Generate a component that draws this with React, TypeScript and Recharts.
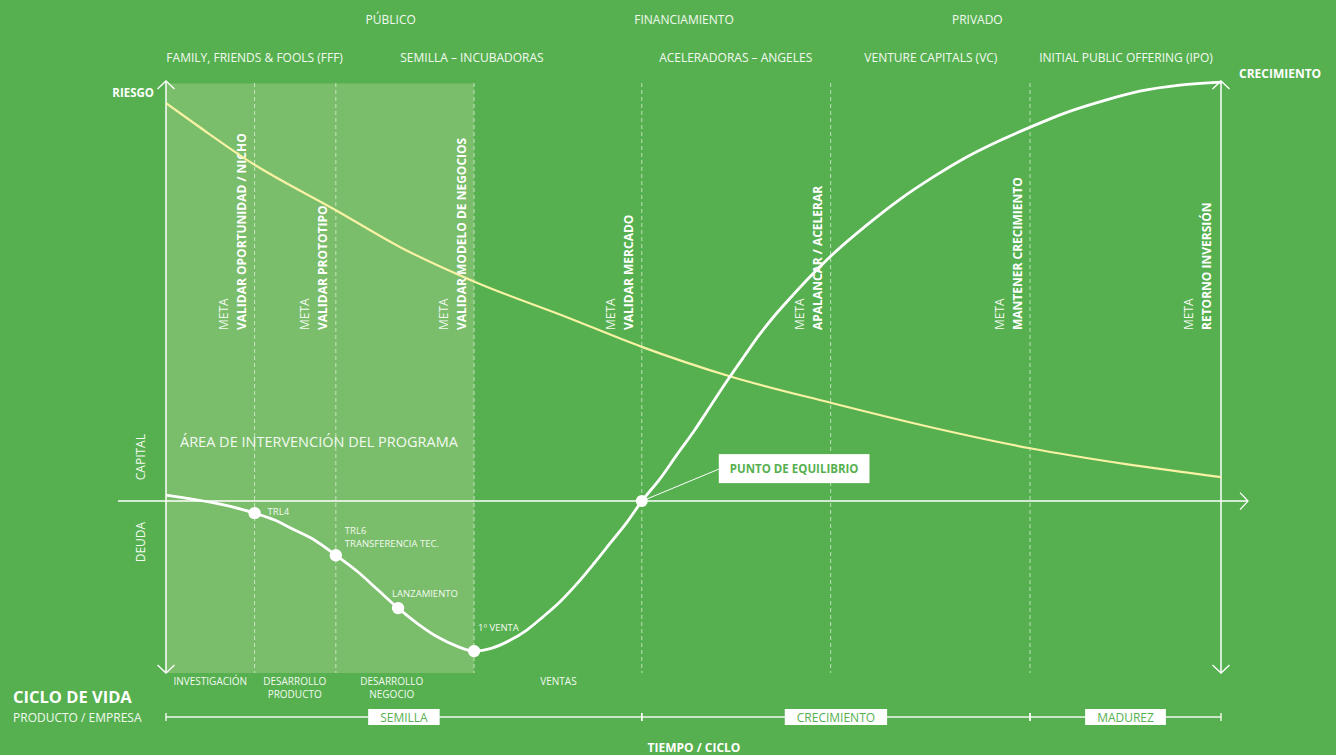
import React from "react";
import {
  ComposedChart,
  Line,
  Scatter,
  XAxis,
  YAxis,
  ReferenceLine,
  ReferenceArea,
  ReferenceDot,
  Label,
  Customized,
} from "recharts";

// time runs 0..100 along the cycle, level is capital (+) / debt (-)
const riskTime = [0, 3.2, 8.0, 16.1, 22.2, 29.3, 38.0, 45.1, 53.5, 63.0, 72.5, 81.9, 91.0, 100];
const riskLevel = [92.6, 87.0, 78.9, 67.7, 59.1, 51.0, 42.8, 35.9, 29.0, 22.9, 17.2, 12.3, 8.6, 5.6];

const capitalTime = [
  0, 8.4, 10.3, 12.0, 14.1, 16.1, 18.2, 20.1, 22.0, 23.9, 25.8, 27.5, 29.2, 30.9, 32.6, 34.2, 35.7, 37.4, 39.0, 40.6,
  42.1, 43.7, 45.1, 46.8, 48.4, 50.1, 51.6, 53.3, 54.8, 56.3, 57.6, 59.0, 61.0, 63.0, 66.3, 69.6, 72.7, 75.9, 79.1,
  81.9, 85.2, 88.5, 92.3, 96.1, 100,
];
const capitalLevel = [
  1.4, -2.8, -4.4, -6.5, -9.1, -12.6, -16.5, -20.7, -24.9, -28.6, -31.7, -33.7, -34.9, -34.2, -32.4, -30.0, -27.0,
  -23.3, -19.1, -14.4, -9.8, -4.9, 0, 5.1, 10.7, 16.5, 22.1, 28.4, 33.7, 38.9, 42.9, 46.8, 52.1, 57.0, 64.0, 70.3,
  75.4, 80.1, 84.0, 87.0, 90.3, 92.9, 95.4, 96.8, 97.5,
];

const milestoneNames = ["TRL4", "TRL6\nTRANSFERENCIA TEC.", "LANZAMIENTO", "1º VENTA", "PUNTO DE EQUILIBRIO"];
const milestoneTime = [8.4, 16.1, 22.0, 29.2, 45.1];
const milestoneLevel = [-2.8, -12.6, -24.9, -34.9, 0];

const goalTime = [8.4, 16.1, 29.2, 45.1, 63.0, 81.9, 100];
const goalLabels = [
  "VALIDAR OPORTUNIDAD / NICHO",
  "VALIDAR PROTOTIPO",
  "VALIDAR MODELO DE NEGOCIOS",
  "VALIDAR MERCADO",
  "APALANCAR / ACELERAR",
  "MANTENER CRECIMIENTO",
  "RETORNO INVERSIÓN",
];

const fundingGroups = ["PÚBLICO", "FINANCIAMIENTO", "PRIVADO"];
const fundingGroupTime = [21.3, 49.1, 76.9];
const fundingSources = [
  "FAMILY, FRIENDS & FOOLS (FFF)",
  "SEMILLA – INCUBADORAS",
  "ACELERADORAS – ANGELES",
  "VENTURE CAPITALS (VC)",
  "INITIAL PUBLIC OFFERING (IPO)",
];
const fundingSourceTime = [8.4, 29.0, 54.0, 72.5, 91.0];

const phases = ["INVESTIGACIÓN", "DESARROLLO\nPRODUCTO", "DESARROLLO\nNEGOCIO", "VENTAS"];
const phaseTime = [4.2, 12.2, 21.4, 37.2];

const stages = ["SEMILLA", "CRECIMIENTO", "MADUREZ"];
const stageBounds = [0, 45.1, 81.9, 100];

const programArea = [0, 29.2];

const riskData = riskTime.map((t, i) => ({ t, v: riskLevel[i] }));
const capitalData = capitalTime.map((t, i) => ({ t, v: capitalLevel[i] }));
const milestoneData = milestoneTime.map((t, i) => ({ t, v: milestoneLevel[i], name: milestoneNames[i] }));

const FONT = "'Open Sans', 'DejaVu Sans', sans-serif";
const BG = "#56b04f";
const LIGHT = "#7abd6a";
const WHITE = "#ffffff";
const TEXT = "#f3faf1";
const YELLOW = "#f8f2a4";

// label offsets from each milestone dot
const milestoneOffset = [
  [13, -1.5],
  [9, -24.5],
  [-6, -15],
  [4, -23.5],
  [77, -32],
];

let ctx: CanvasRenderingContext2D | null = null;
function measure(text: string, font: string) {
  if (!ctx) ctx = document.createElement("canvas").getContext("2d");
  if (!ctx) return text.length * 7;
  ctx.font = font;
  return ctx.measureText(text).width;
}

function Chevron({ x, y, dir }: { x: number; y: number; dir: "up" | "down" | "right" }) {
  const h = 8.5;
  const s = 8;
  let pts = "";
  if (dir === "up") pts = `${x - h},${y + s} ${x},${y} ${x + h},${y + s}`;
  if (dir === "down") pts = `${x - h},${y - s} ${x},${y} ${x + h},${y - s}`;
  if (dir === "right") pts = `${x - s},${y - h} ${x},${y} ${x - s},${y + h}`;
  return <polyline points={pts} fill="none" stroke={WHITE} strokeWidth={1.3} />;
}

const verticalAxis = (side: "left" | "right") => (p: any) => {
  const x = p.x1;
  const top = Math.min(p.y1, p.y2) + 1;
  const bottom = Math.max(p.y1, p.y2);
  return (
    <g>
      <line x1={x} y1={top} x2={x} y2={bottom} stroke={WHITE} strokeWidth={1.5} />
      <Chevron x={x} y={top} dir="up" />
      <Chevron x={x} y={bottom} dir="down" />
      {side === "left" ? (
        <text x={x - 12} y={top + 16} textAnchor="end" fontFamily={FONT} fontSize={11.5} fontWeight={700} fill={WHITE}>
          RIESGO
        </text>
      ) : (
        <text x={x + 18} y={top - 3} fontFamily={FONT} fontSize={12} fontWeight={700} fill={WHITE}>
          CRECIMIENTO
        </text>
      )}
    </g>
  );
};

const zeroAxis = (p: any) => {
  const left = Math.min(p.x1, p.x2);
  const right = Math.max(p.x1, p.x2);
  const y = p.y1;
  return (
    <g>
      <line x1={left - 48} y1={y} x2={right + 27} y2={y} stroke="rgba(255,255,255,0.75)" strokeWidth={2} />
      <Chevron x={right + 27} y={y} dir="right" />
      <text
        transform={`translate(${left - 26},${y - 44}) rotate(-90)`}
        textAnchor="middle"
        dominantBaseline="central"
        fontFamily={FONT}
        fontSize={12}
        fill={TEXT}
      >
        CAPITAL
      </text>
      <text
        transform={`translate(${left - 26},${y + 41}) rotate(-90)`}
        textAnchor="middle"
        dominantBaseline="central"
        fontFamily={FONT}
        fontSize={12}
        fill={TEXT}
      >
        DEUDA
      </text>
    </g>
  );
};

const goalLine = (label: string, isAxis: boolean) => (p: any) => {
  const x = p.x1;
  const top = Math.min(p.y1, p.y2);
  const bottom = Math.max(p.y1, p.y2);
  const shift = isAxis ? 2 : 0;
  return (
    <g>
      {!isAxis && (
        <line x1={x} y1={top + 3} x2={x} y2={bottom} stroke="rgba(255,255,255,0.6)" strokeWidth={1} strokeDasharray="4 3" />
      )}
      <text
        transform={`translate(${x - 31 - shift},${top + 250}) rotate(-90)`}
        dominantBaseline="central"
        fontFamily={FONT}
        fontSize={12}
        fill={TEXT}
      >
        META
      </text>
      <text
        transform={`translate(${x - 13 - shift},${top + 250}) rotate(-90)`}
        dominantBaseline="central"
        fontFamily={FONT}
        fontSize={12}
        fontWeight={700}
        fill={WHITE}
      >
        {label}
      </text>
    </g>
  );
};

const stageBar = (label: string) => (p: any) => {
  const bottom = p.y + p.height;
  const y = bottom + 44;
  const cx = p.x + p.width / 2;
  const w = measure(label, `12px ${FONT}`) + 24;
  return (
    <g>
      <line x1={p.x} y1={y} x2={p.x + p.width} y2={y} stroke="rgba(255,255,255,0.9)" strokeWidth={1.5} />
      <line x1={p.x} y1={y - 4} x2={p.x} y2={y + 4} stroke={WHITE} strokeWidth={1.3} />
      <line x1={p.x + p.width} y1={y - 4} x2={p.x + p.width} y2={y + 4} stroke={WHITE} strokeWidth={1.3} />
      <rect x={cx - w / 2} y={y - 8} width={w} height={16} fill={WHITE} />
      <text x={cx} y={y + 0.5} textAnchor="middle" dominantBaseline="central" fontFamily={FONT} fontSize={12} fill={BG}>
        {label}
      </text>
    </g>
  );
};

const headerText = (label: string, dy: number) => (p: any) => (
  <text x={p.cx} y={p.cy + dy} textAnchor="middle" fontFamily={FONT} fontSize={12} fill={TEXT}>
    {label}
  </text>
);

const phaseText = (label: string) => (p: any) => (
  <g>
    {label.split("\n").map((line, i) => (
      <text
        key={i}
        x={p.cx}
        y={p.cy + 8 + i * 13}
        textAnchor="middle"
        dominantBaseline="central"
        fontFamily={FONT}
        fontSize={10}
        fill={TEXT}
      >
        {line}
      </text>
    ))}
  </g>
);

const MilestoneDot = (p: any) => {
  const idx = milestoneNames.indexOf(p.payload?.name);
  const [dx, dy] = milestoneOffset[idx] ?? [0, 0];
  const name: string = p.payload?.name ?? "";
  if (idx === milestoneNames.length - 1) {
    const w = measure(name, `bold 11.5px ${FONT}`) + 22;
    return (
      <g>
        <line x1={p.cx} y1={p.cy} x2={p.cx + dx} y2={p.cy + dy} stroke={WHITE} strokeWidth={1} />
        <rect x={p.cx + dx} y={p.cy + dy - 15} width={w} height={29} fill={WHITE} />
        <text
          x={p.cx + dx + w / 2}
          y={p.cy + dy - 0.5}
          textAnchor="middle"
          dominantBaseline="central"
          fontFamily={FONT}
          fontSize={11.5}
          fontWeight={700}
          fill={BG}
        >
          {name}
        </text>
        <circle cx={p.cx} cy={p.cy} r={6} fill={WHITE} />
      </g>
    );
  }
  return (
    <g>
      <circle cx={p.cx} cy={p.cy} r={6.2} fill={WHITE} />
      {name.split("\n").map((line, i) => (
        <text
          key={i}
          x={p.cx + dx}
          y={p.cy + dy + i * 13}
          dominantBaseline="central"
          fontFamily={FONT}
          fontSize={9.5}
          fill={TEXT}
        >
          {line}
        </text>
      ))}
    </g>
  );
};

const Captions = () => (
  <g fontFamily={FONT}>
    <text x={13} y={703} fontSize={16.5} fontWeight={700} fill={WHITE}>
      CICLO DE VIDA
    </text>
    <text x={13} y={722} fontSize={12} fill={TEXT}>
      PRODUCTO / EMPRESA
    </text>
    <text x={694} y={752} textAnchor="middle" fontSize={12} fontWeight={700} fill={WHITE}>
      TIEMPO / CICLO
    </text>
  </g>
);

export default function App() {
  return (
    <div style={{ position: "absolute", left: 0, top: 0, width: 1336, height: 755, background: BG, fontFamily: FONT }}>
      <ComposedChart width={1336} height={755} margin={{ top: 80, right: 115, bottom: 82, left: 166 }}>
        <XAxis type="number" dataKey="t" domain={[0, 100]} hide allowDataOverflow />
        <YAxis type="number" dataKey="v" domain={[-40, 98]} hide allowDataOverflow />

        <ReferenceArea x1={programArea[0]} x2={programArea[1]} y1={-40} y2={97.2} fill={LIGHT} fillOpacity={1} stroke="none">
          <Label
            content={(p: any) => (
              <text x={p.viewBox.x + 14} y={p.viewBox.y + 364} fontFamily={FONT} fontSize={14.5} fill={TEXT}>
                ÁREA DE INTERVENCIÓN DEL PROGRAMA
              </text>
            )}
          />
        </ReferenceArea>

        {goalTime.map((t, i) => (
          <ReferenceLine key={`g${i}`} x={t} ifOverflow="visible" shape={goalLine(goalLabels[i], t === 100)} />
        ))}

        <ReferenceLine x={0} ifOverflow="visible" shape={verticalAxis("left")} />
        <ReferenceLine x={100} ifOverflow="visible" shape={verticalAxis("right")} />
        <ReferenceLine y={0} ifOverflow="visible" shape={zeroAxis} />

        {fundingGroups.map((g, i) => (
          <ReferenceDot key={`fg${i}`} x={fundingGroupTime[i]} y={98} r={0} ifOverflow="visible" shape={headerText(g, -56)} />
        ))}
        {fundingSources.map((g, i) => (
          <ReferenceDot key={`fs${i}`} x={fundingSourceTime[i]} y={98} r={0} ifOverflow="visible" shape={headerText(g, -18)} />
        ))}
        {phases.map((ph, i) => (
          <ReferenceDot key={`ph${i}`} x={phaseTime[i]} y={-40} r={0} ifOverflow="visible" shape={phaseText(ph)} />
        ))}
        {stages.map((s, i) => (
          <ReferenceArea
            key={`st${i}`}
            x1={stageBounds[i]}
            x2={stageBounds[i + 1]}
            ifOverflow="visible"
            shape={stageBar(s)}
          />
        ))}

        <Line
          data={riskData}
          dataKey="v"
          type="monotone"
          stroke={YELLOW}
          strokeWidth={2.2}
          dot={false}
          activeDot={false}
          isAnimationActive={false}
        />
        <Line
          data={capitalData}
          dataKey="v"
          type="monotone"
          stroke={WHITE}
          strokeWidth={2.8}
          dot={false}
          activeDot={false}
          isAnimationActive={false}
        />
        <Scatter data={milestoneData} dataKey="v" shape={MilestoneDot} isAnimationActive={false} />

        <Customized component={<Captions />} />
      </ComposedChart>
    </div>
  );
}
